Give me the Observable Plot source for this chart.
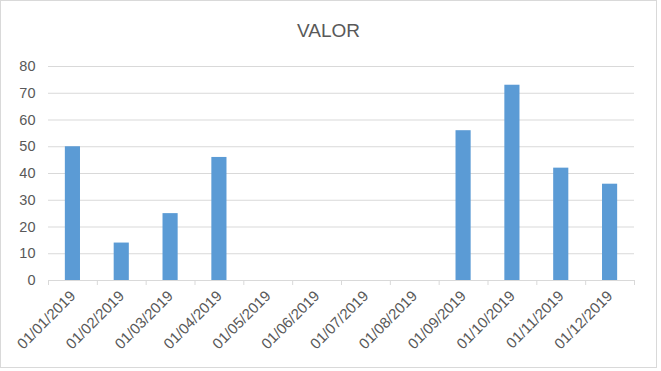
<!DOCTYPE html>
<html>
<head>
<meta charset="utf-8">
<script src="https://cdn.jsdelivr.net/npm/d3@7"></script>
<script src="https://cdn.jsdelivr.net/npm/@observablehq/plot@0.6"></script>
<style>
  html, body { margin: 0; padding: 0; background: #fff; }
  #chart { position: absolute; left: 0; top: 0; width: 655px; height: 366px; border: 1px solid #d9d9d9; background: #fff; overflow: hidden; }
  #title { position: absolute; left: 0; top: 19px; width: 655px; text-align: center; font-family: "Liberation Sans", Arial, sans-serif; font-size: 19px; color: #595959; }
  #plot { position: absolute; left: 0; top: 48px; }
</style>
</head>
<body>
<div id="chart">
  <div id="title">VALOR</div>
  <div id="plot"></div>
</div>
<script>
const months = ["01/01/2019","01/02/2019","01/03/2019","01/04/2019","01/05/2019","01/06/2019","01/07/2019","01/08/2019","01/09/2019","01/10/2019","01/11/2019","01/12/2019"];
const values = [50, 14, 25, 46, 0, 0, 0, 0, 56, 73, 42, 36];
const yTicks = [0, 10, 20, 30, 40, 50, 60, 70, 80];

const data = months.map((m, i) => ({month: m, value: values[i]}));
const W = 655, H = 317, ML = 47, MR = 22;
const bw = (W - ML - MR) / months.length;

const chart = Plot.plot({
  width: W,
  height: H,
  marginLeft: ML,
  marginRight: MR,
  marginTop: 17,
  marginBottom: 86,
  style: {fontFamily: "Liberation Sans, Arial, sans-serif", fontSize: "14.5px", color: "#595959", background: "#fff"},
  x: {domain: months, paddingInner: 0.69, paddingOuter: 0.345, align: 0.5, round: false},
  y: {type: "linear", domain: [0, 80]},
  marks: [
    Plot.gridY(yTicks, {stroke: "#d9d9d9", strokeOpacity: 1}),
    Plot.axisY(yTicks, {tickSize: 0, tickPadding: 13, label: null, fill: "#595959", fontSize: 14.5}),
    Plot.barY(data, {x: "month", y: "value", fill: "#5b9bd5"}),
    Plot.ruleY([0], {stroke: "#d9d9d9"}),
    Plot.axisX({tickSize: 0, tickRotate: -45, tickPadding: 13, label: null, fill: "#595959", fontSize: 15, dx: 0}),
    Plot.axisX(months, {tickSize: 5, text: null, label: null, stroke: "#d9d9d9", dx: -bw / 2}),
    Plot.axisX([months[11]], {tickSize: 5, text: null, label: null, stroke: "#d9d9d9", dx: bw / 2})
  ]
});
document.getElementById("plot").appendChild(chart);
</script>
</body>
</html>
